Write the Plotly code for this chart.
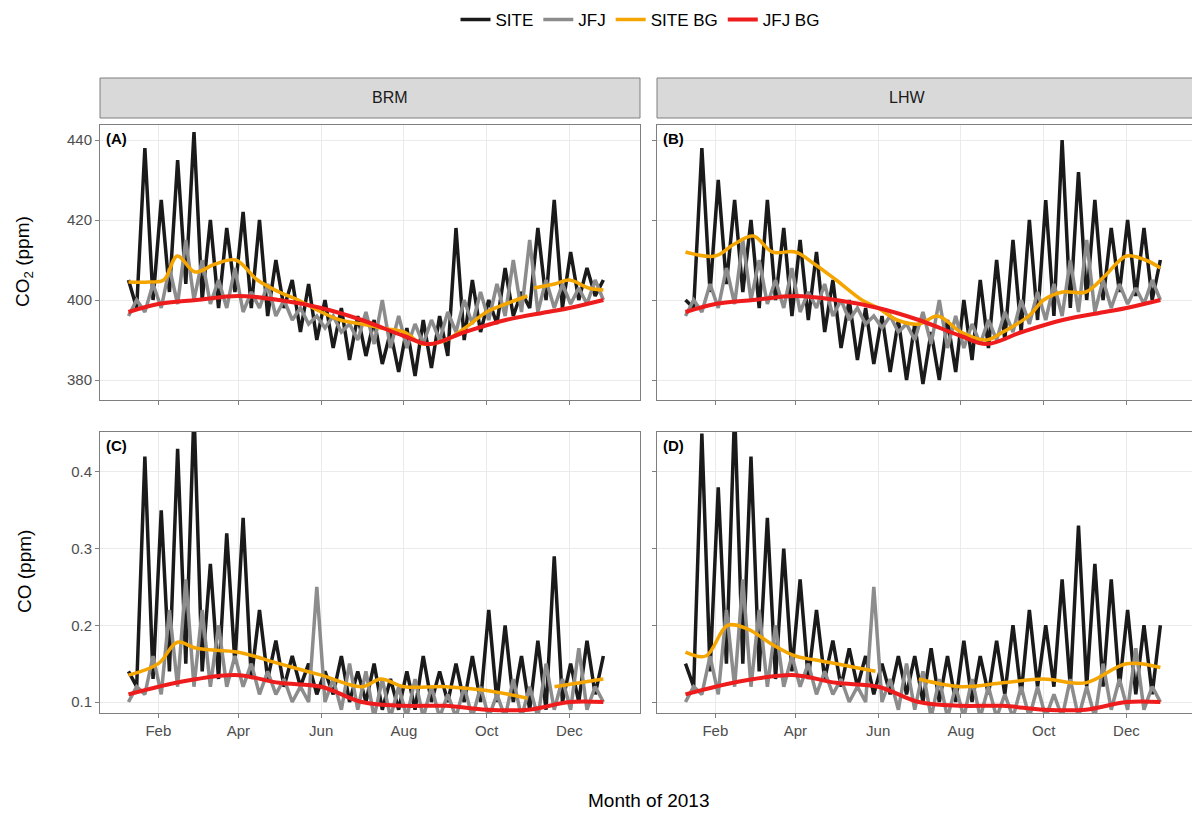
import pandas as pd
import plotly.graph_objects as go

# raw series (alternating peaks/troughs, ~6-day steps from Jan 10 to Dec 26)
brm_co2_site = [405,398,438,400,425,402,435,404,442,400,420,398,418,402,422,398,420,396,410,398,405,392,404,390,400,388,398,385,396,386,395,384,392,382,393,381,395,383,396,386,418,390,405,392,400,394,408,396,402,398,418,400,425,398,412,400,408,401,405]
lhw_co2_site = [400,398,438,402,430,404,425,402,420,398,425,400,418,396,415,395,412,392,405,388,400,385,398,384,396,382,395,380,394,379,392,380,395,382,400,385,405,388,410,390,415,392,420,395,425,396,440,398,432,400,425,400,418,402,420,401,418,400,410]
jfj_co2 = [396,400,397,404,398,408,399,415,400,410,399,405,398,408,397,402,398,404,396,400,395,398,394,396,393,396,392,394,390,397,389,400,388,396,388,394,389,395,390,397,392,400,394,402,395,404,396,410,397,415,397,405,398,404,399,403,399,405,400]
brm_co_site = [0.14,0.12,0.42,0.13,0.35,0.14,0.43,0.15,0.48,0.14,0.28,0.13,0.32,0.15,0.34,0.13,0.22,0.13,0.18,0.12,0.16,0.12,0.15,0.11,0.14,0.11,0.16,0.10,0.14,0.10,0.15,0.09,0.13,0.09,0.14,0.09,0.16,0.10,0.14,0.10,0.15,0.10,0.16,0.10,0.22,0.10,0.20,0.10,0.16,0.09,0.18,0.09,0.29,0.10,0.15,0.10,0.18,0.11,0.16]
lhw_co_site = [0.15,0.12,0.45,0.14,0.38,0.15,0.48,0.15,0.42,0.14,0.34,0.13,0.30,0.14,0.26,0.13,0.22,0.13,0.18,0.12,0.17,0.12,0.16,0.11,0.15,0.11,0.16,0.11,0.16,0.10,0.17,0.10,0.16,0.10,0.18,0.10,0.16,0.11,0.18,0.11,0.20,0.11,0.22,0.12,0.20,0.12,0.26,0.12,0.33,0.12,0.28,0.12,0.26,0.12,0.22,0.11,0.20,0.11,0.20]
jfj_co = [0.10,0.12,0.11,0.16,0.11,0.22,0.12,0.26,0.12,0.22,0.12,0.20,0.12,0.16,0.12,0.15,0.11,0.14,0.11,0.13,0.10,0.12,0.10,0.25,0.10,0.13,0.09,0.15,0.09,0.14,0.08,0.13,0.08,0.12,0.08,0.13,0.08,0.12,0.08,0.11,0.08,0.12,0.08,0.12,0.08,0.11,0.08,0.13,0.08,0.12,0.08,0.15,0.09,0.13,0.09,0.17,0.09,0.12,0.10]

# background curves (date, value); None = gap
brm_co2_bg_d = ["2013-01-10","2013-01-25","2013-02-05","2013-02-15","2013-02-28","2013-03-15","2013-03-30","2013-04-15","2013-05-01","2013-05-15","2013-06-01","2013-06-15","2013-07-01","2013-07-15","2013-08-01","2013-08-15","2013-09-01","2013-09-15","2013-10-01","2013-10-15","2013-10-31","2013-11-02","2013-11-05","2013-11-20","2013-12-01","2013-12-15","2013-12-26"]
brm_co2_bg = [404.5,404.5,405,411,407,409,410,405,402,400,397,395,394,393,392,389,390,393,397,399,401,None,403,404,405,403,402.5]
lhw_co2_bg_d = ["2013-01-10","2013-02-01","2013-02-15","2013-03-01","2013-03-15","2013-04-01","2013-04-15","2013-05-01","2013-05-20","2013-06-01","2013-06-15","2013-07-01","2013-07-15","2013-08-01","2013-08-20","2013-09-01","2013-09-20","2013-10-01","2013-10-15","2013-11-01","2013-11-15","2013-12-01","2013-12-15","2013-12-26"]
lhw_co2_bg = [412,411,414,416,412,412,409,405,400,398,395,394,396,392,390,392,396,400,402,402,406,411,410,408]
jfj_co2_bg_d = ["2013-01-10","2013-02-01","2013-03-01","2013-04-01","2013-05-01","2013-06-01","2013-07-01","2013-08-01","2013-08-20","2013-09-15","2013-10-15","2013-11-15","2013-12-01","2013-12-26"]
jfj_co2_bg = [397,399,400,401,400,398,395,391,389,392,395,397,398,400]
brm_co_bg_d = ["2013-01-10","2013-02-01","2013-02-15","2013-03-01","2013-04-01","2013-05-01","2013-06-01","2013-07-01","2013-07-15","2013-08-01","2013-09-01","2013-10-01","2013-10-31","2013-11-10","2013-11-20","2013-12-26"]
brm_co_bg = [0.135,0.15,0.178,0.17,0.165,0.15,0.135,0.12,0.13,0.12,0.12,0.115,0.105,None,0.12,0.13]
lhw_co_bg_d = ["2013-01-10","2013-01-25","2013-02-10","2013-02-25","2013-03-15","2013-04-01","2013-04-15","2013-05-01","2013-05-30","2013-06-03","2013-07-01","2013-08-01","2013-09-01","2013-10-01","2013-11-01","2013-12-01","2013-12-26"]
lhw_co_bg = [0.165,0.16,0.2,0.195,0.175,0.16,0.155,0.15,0.14,None,0.13,0.12,0.125,0.13,0.125,0.15,0.145]
jfj_co_bg_d = ["2013-01-10","2013-02-01","2013-03-01","2013-04-01","2013-05-01","2013-06-01","2013-07-01","2013-08-01","2013-09-01","2013-10-01","2013-11-01","2013-12-01","2013-12-26"]
jfj_co_bg = [0.11,0.12,0.13,0.135,0.125,0.12,0.10,0.095,0.095,0.09,0.09,0.10,0.10]

def dates(n):
    return pd.date_range("2013-01-10", "2013-12-26", periods=n)

panels = [
    (1, 1, brm_co2_site, jfj_co2, brm_co2_bg_d, brm_co2_bg, jfj_co2_bg_d, jfj_co2_bg),
    (1, 2, lhw_co2_site, jfj_co2, lhw_co2_bg_d, lhw_co2_bg, jfj_co2_bg_d, jfj_co2_bg),
    (2, 1, brm_co_site, jfj_co, brm_co_bg_d, brm_co_bg, jfj_co_bg_d, jfj_co_bg),
    (2, 2, lhw_co_site, jfj_co, lhw_co_bg_d, lhw_co_bg, jfj_co_bg_d, jfj_co_bg),
]

W, H = 1200, 822
OFF = 8  # page margin offset
def px_x(p): return (p - OFF) / W
def px_y(p): return 1 - (p - OFF) / H

fig = go.Figure()
xdom = {1: [px_x(100), px_x(640)], 2: [px_x(657), px_x(1197)]}
ydom = {1: [px_y(400), px_y(125)], 2: [px_y(713), px_y(432)]}
for i, (r, c, site, jfj, sbd, sb, jbd, jb) in enumerate(panels):
    k = i + 1
    xa, ya = ("x" if k == 1 else f"x{k}"), ("y" if k == 1 else f"y{k}")
    first = k == 1
    fig.add_trace(go.Scatter(x=dates(len(site)), y=site, name="SITE", mode="lines", line=dict(color="#1a1a1a", width=3.5), xaxis=xa, yaxis=ya, showlegend=first, legendgroup="a"))
    fig.add_trace(go.Scatter(x=dates(len(jfj)), y=jfj, name="JFJ", mode="lines", line=dict(color="#8c8c8c", width=3.5), xaxis=xa, yaxis=ya, showlegend=first, legendgroup="b"))
    fig.add_trace(go.Scatter(x=sbd, y=sb, name="SITE BG", mode="lines", line=dict(color="#f5a500", width=3.5, shape="spline"), xaxis=xa, yaxis=ya, showlegend=first, legendgroup="c"))
    fig.add_trace(go.Scatter(x=jbd, y=jb, name="JFJ BG", mode="lines", line=dict(color="#ee1c1c", width=4, shape="spline"), xaxis=xa, yaxis=ya, showlegend=first, legendgroup="d"))
    ax = dict(domain=xdom[c], range=["2012-12-20", "2014-01-22"], tickvals=["2013-02-01","2013-04-01","2013-06-01","2013-08-01","2013-10-01","2013-12-01"],
              ticktext=["Feb","Apr","Jun","Aug","Oct","Dec"] if r == 2 else [""]*6, showgrid=True, gridcolor="#ebebeb",
              mirror=True, showline=True, linecolor="#7f7f7f", ticks="outside", tickcolor="#7f7f7f", ticklen=4,
              tickfont=dict(size=15, color="#4d4d4d"), anchor=ya, zeroline=False, automargin=False)
    if r == 1:
        yr, yt = [375, 443.75], [380, 400, 420, 440]
        ytt = [str(v) for v in yt]
    else:
        yr, yt = [0.0857, 0.452], [0.1, 0.2, 0.3, 0.4]
        ytt = ["0.1", "0.2", "0.3", "0.4"]
    ay = dict(domain=ydom[r], range=yr, tickvals=yt, ticktext=ytt if c == 1 else [""]*4, showgrid=True, gridcolor="#ebebeb",
              mirror=True, showline=True, linecolor="#7f7f7f", ticks="outside", tickcolor="#7f7f7f", ticklen=4,
              tickfont=dict(size=15, color="#4d4d4d"), anchor=xa, zeroline=False, automargin=False)
    fig.layout["xaxis" if k == 1 else f"xaxis{k}"] = ax
    fig.layout["yaxis" if k == 1 else f"yaxis{k}"] = ay

anns = []
for k, lab in zip(range(4), ["(A)", "(B)", "(C)", "(D)"]):
    c = k % 2 + 1
    r = k // 2 + 1
    anns.append(dict(x=xdom[c][0] + 0.003, y=ydom[r][1] - 0.004, xref="paper", yref="paper", text=f"<b>{lab}</b>",
                     showarrow=False, xanchor="left", yanchor="top", font=dict(size=15, color="black")))
shapes = []
for c, name in [(1, "BRM"), (2, "LHW")]:
    shapes.append(dict(type="rect", xref="paper", yref="paper", x0=xdom[c][0], x1=xdom[c][1], y0=px_y(118), y1=px_y(78),
                       fillcolor="#d9d9d9", line=dict(color="#7f7f7f", width=1)))
    anns.append(dict(x=sum(xdom[c]) / 2, y=px_y(98), xref="paper", yref="paper", text=name, showarrow=False,
                     yanchor="middle", font=dict(size=16, color="#1a1a1a")))
anns.append(dict(x=px_x(648), y=px_y(800), xref="paper", yref="paper", text="Month of 2013", showarrow=False, yanchor="middle", font=dict(size=19, color="black")))
anns.append(dict(x=px_x(24), y=px_y(262), xref="paper", yref="paper", text="CO<sub>2</sub> (ppm)", showarrow=False, textangle=-90,
                 xanchor="center", yanchor="middle", font=dict(size=19, color="black")))
anns.append(dict(x=px_x(24), y=px_y(572), xref="paper", yref="paper", text="CO (ppm)", showarrow=False, textangle=-90,
                 xanchor="center", yanchor="middle", font=dict(size=19, color="black")))

fig.update_layout(width=W, height=H, margin=dict(l=0, r=0, t=0, b=0, pad=0, autoexpand=False), plot_bgcolor="white", paper_bgcolor="white",
                  font=dict(family="Liberation Sans, Arial", size=15),
                  legend=dict(orientation="h", x=px_x(640), xanchor="center", y=px_y(20), yanchor="middle", font=dict(size=17, color="black"),
                              bgcolor="rgba(0,0,0,0)"),
                  annotations=anns, shapes=shapes)
fig.write_html("out.html")
